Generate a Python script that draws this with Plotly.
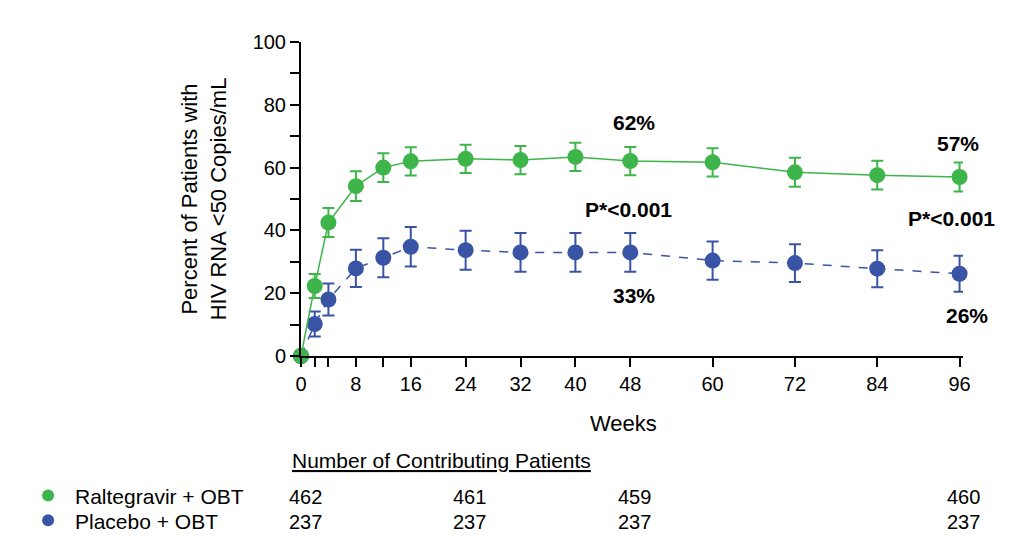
import plotly.graph_objects as go

# ---- data ----
weeks = [0, 2, 4, 8, 12, 16, 24, 32, 40, 48, 60, 72, 84, 96]
ralt_pct = [0, 22.3, 42.5, 54.1, 60.0, 62.0, 62.8, 62.4, 63.4, 62.1, 61.7, 58.5, 57.6, 57.0]
ralt_err = [0, 3.8, 4.6, 4.7, 4.6, 4.5, 4.5, 4.5, 4.5, 4.5, 4.5, 4.6, 4.6, 4.6]
plac_pct = [0, 10.2, 18.0, 27.9, 31.3, 34.8, 33.7, 33.0, 33.0, 33.0, 30.4, 29.6, 27.8, 26.2]
plac_err = [0, 4.0, 5.1, 5.9, 6.2, 6.3, 6.2, 6.2, 6.2, 6.2, 6.1, 6.0, 5.9, 5.7]

x_tick_vals = [0, 2, 4, 8, 12, 16, 24, 32, 40, 48, 60, 72, 84, 96]
x_tick_text = ["0", "", "", "8", "", "16", "24", "32", "40", "48", "60", "72", "84", "96"]
y_tick_vals = [0, 10, 20, 30, 40, 50, 60, 70, 80, 90, 100]
y_tick_text = ["0", "", "20", "", "40", "", "60", "", "80", "", "100"]

table_weeks = [0, 24, 48, 96]
ralt_n = [462, 461, 459, 460]
plac_n = [237, 237, 237, 237]

GREEN = "#3db54a"
BLUE = "#3a54a5"
FONT = "Liberation Sans, Arial, sans-serif"

fig = go.Figure()

fig.add_trace(go.Scatter(
    x=weeks, y=plac_pct, mode="lines+markers", name="Placebo + OBT",
    line=dict(color=BLUE, width=1.5, dash="dash"),
    marker=dict(color=BLUE, size=16),
    error_y=dict(type="data", array=plac_err, color=BLUE, thickness=2, width=6),
    cliponaxis=False, showlegend=False,
))
fig.add_trace(go.Scatter(
    x=weeks, y=ralt_pct, mode="lines+markers", name="Raltegravir + OBT",
    line=dict(color=GREEN, width=1.5),
    marker=dict(color=GREEN, size=16),
    error_y=dict(type="data", array=ralt_err, color=GREEN, thickness=2, width=6),
    cliponaxis=False, showlegend=False,
))

# In-plot labels
lab = dict(xref="x", yref="y", showarrow=False, xanchor="center", yanchor="middle",
           font=dict(family=FONT, size=21, color="black"))
fig.add_annotation(x=48.6, y=74.3, text="<b>62%</b>", **lab)
fig.add_annotation(x=47.7, y=46.5, text="<b>P*<0.001</b>", **lab)
fig.add_annotation(x=48.6, y=19.4, text="<b>33%</b>", **lab)
fig.add_annotation(x=95.7, y=67.8, text="<b>57%</b>", **lab)
fig.add_annotation(x=94.8, y=43.9, text="<b>P*<0.001</b>", **lab)
fig.add_annotation(x=96.0, y=13.0, xshift=7, text="<b>26%</b>", **lab)

def txt(size=21, xa="center"):
    return dict(showarrow=False, xanchor=xa, yanchor="middle",
                font=dict(family=FONT, size=size, color="black"))

# Axis titles
fig.add_annotation(xref="paper", yref="paper", x=0.487, y=-0.216,
                   text="Weeks", **txt(22))
fig.add_annotation(xref="paper", yref="paper", x=-0.146, y=0.5, textangle=-90,
                   text="Percent of Patients with<br>HIV RNA <50 Copies/mL", **txt(22))

# Table
fig.add_annotation(xref="paper", yref="paper", x=0.2126, y=-0.334,
                   text="<u>Number of Contributing Patients</u>", **txt(21))
row_y = [-0.449, -0.528]
names = ["Raltegravir + OBT", "Placebo + OBT"]
colors = [GREEN, BLUE]
counts = [ralt_n, plac_n]
for ry, nm, col, cnt in zip(row_y, names, colors, counts):
    fig.add_annotation(xref="paper", yref="paper", x=-0.344, y=ry,
                       text=nm, **txt(21, "left"))
    fig.add_shape(type="circle", xref="paper", yref="paper",
                  xsizemode="pixel", ysizemode="pixel",
                  xanchor=-0.382, yanchor=ry + 0.005, x0=-6, x1=6, y0=-6, y1=6,
                  fillcolor=col, line=dict(width=0))
    for wk, n in zip(table_weeks, cnt):
        fig.add_annotation(xref="x", yref="paper", x=wk, y=ry, xshift=4,
                           text=str(n), **txt(20))

axis_common = dict(
    tickmode="array", showline=True, linecolor="black", linewidth=2,
    ticks="outside", ticklen=9, tickcolor="black", tickwidth=1.5,
    showgrid=False, zeroline=False,
    tickfont=dict(family=FONT, size=20, color="black"),
)
fig.update_xaxes(range=[0, 96.5], tickvals=x_tick_vals, ticktext=x_tick_text, **axis_common)
fig.update_yaxes(range=[0, 100], tickvals=y_tick_vals, ticktext=y_tick_text, **axis_common)

# Page body has an 8px margin; size the figure so the plot lands where the reference has it
fig.update_layout(
    width=1007, height=551,
    margin=dict(l=293, r=52, t=34, b=203),
    plot_bgcolor="white", paper_bgcolor="white",
    font=dict(family=FONT, size=20, color="black"),
)

fig.write_html("out.html")
